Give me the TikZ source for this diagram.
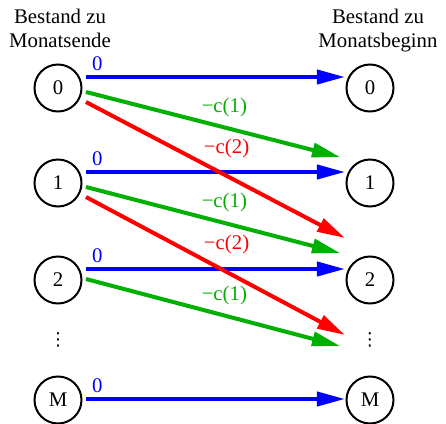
\documentclass[tikz,border=0pt]{standalone}
\usepackage{fontspec}
\setmainfont{Liberation Serif}
\newfontfamily\dotsfont{DejaVu Sans}
\usetikzlibrary{arrows.meta,calc}
\definecolor{Cflowblue}{HTML}{0000FF}
\definecolor{Cflowgreen}{HTML}{00B000}
\definecolor{Cflowred}{HTML}{FF0000}

\begin{document}
\begin{tikzpicture}[x=0.5pt,y=-0.5pt,
		font=\fontsize{10.4}{11.7}\selectfont,
		stock/.style={circle,draw,line width=1pt,minimum size=23.5pt,inner sep=0pt},
		head/.style={align=center,anchor=north,inner sep=0pt},
		more/.style={inner sep=0pt,font=\dotsfont\fontsize{9}{9}\selectfont},
		flow/.style={line width=2pt,-{Triangle[length=14pt,width=7pt]}},
		lbl/.style={inner sep=1pt,anchor=south west,pos=0.44},
		zero/.style={inner sep=2pt,anchor=south west,pos=0}]
		\useasboundingbox (0,0) rectangle (446,424);
		\node[head] (hl) at (60,9) {Bestand zu\\Monatsende};
		\node[head] (hr) at (378,9) {Bestand zu\\Monatsbeginn};
		% left column
		\node[stock] (l0) at (58,88) {0};
		\node[stock] (l1) at (58,183) {1};
		\node[stock] (l2) at (58,280) {2};
		\node[more] (ld) at (58,340) {⋮};
		\node[stock] (lm) at (58,400) {M};
		% right column
		\node[stock] (r0) at (370,88) {0};
		\node[stock] (r1) at (370,183) {1};
		\node[stock] (r2) at (370,280) {2};
		\node[more] (rd) at (370,340) {⋮};
		\node[stock] (rm) at (370,400) {M};
		% keep stock
		\draw[flow,Cflowblue] ($(l0)+(28,-11)$) -- node[zero]{0} ($(r0)+(-25,-11)$);
		\draw[flow,Cflowblue] ($(l1)+(28,-11)$) -- node[zero]{0} ($(r1)+(-25,-11)$);
		\draw[flow,Cflowblue] ($(l2)+(28,-11)$) -- node[zero]{0} ($(r2)+(-25,-11)$);
		\draw[flow,Cflowblue] ($(lm)+(28,-1)$) -- node[zero]{0} ($(rm)+(-25,-1)$);
		% sell one
		\draw[flow,Cflowgreen] ($(l0)+(28,4)$) -- node[lbl]{−c(1)} ($(r1)+(-30,-26)$);
		\draw[flow,Cflowgreen] ($(l1)+(28,4)$) -- node[lbl]{−c(1)} ($(r2)+(-30,-27)$);
		\draw[flow,Cflowgreen] ($(l2)+(28,-1)$) -- node[lbl]{−c(1)} ($(rd)+(-30,6)$);
		% sell two
		\draw[flow,Cflowred] ($(l0)+(28,14)$) -- node[lbl]{−c(2)} ($(r2)+(-25,-42)$);
		\draw[flow,Cflowred] ($(l1)+(28,14)$) -- node[lbl]{−c(2)} ($(rd)+(-25,-5)$);
	\end{tikzpicture}
\end{document}
